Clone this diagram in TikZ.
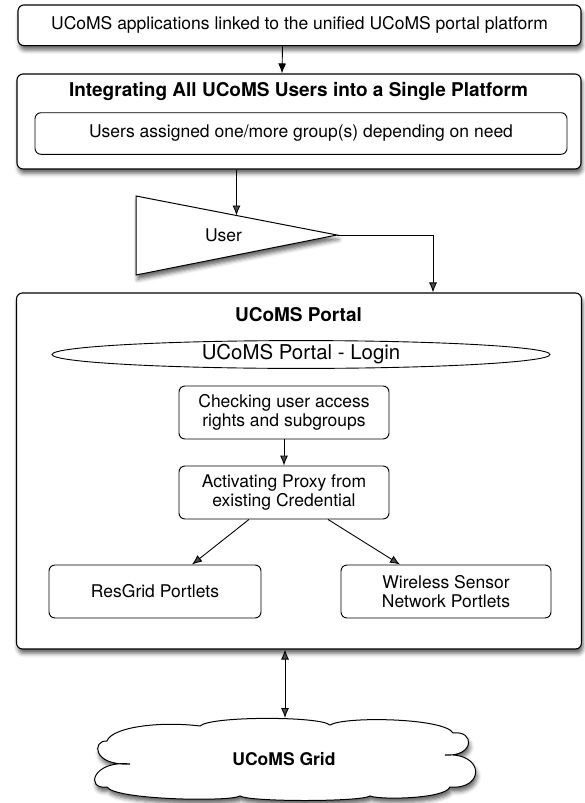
\documentclass[tikz,border=0pt]{standalone}
\usepackage{fontspec}
\setmainfont{TeX Gyre Heros}
\usetikzlibrary{arrows.meta,shapes.geometric,shadows.blur,calc}
\tikzset{
  >={Latex[length=10pt,width=8pt]},
}
\tikzstyle{every node}=[font=\fontsize{17.5}{19.5}\selectfont]
\tikzstyle{dropshade}=[blur shadow={shadow xshift=1.5pt,shadow yshift=-4.5pt,shadow blur radius=4pt,shadow opacity=60}]
\tikzstyle{bigbox}=[draw,line width=1.1pt,rounded corners=6pt,fill=white,dropshade]
\tikzstyle{smallbox}=[draw,line width=0.9pt,rounded corners=6pt,fill=white,align=center,inner sep=0pt]
\tikzstyle{heading}=[font=\fontsize{19}{21}\selectfont\bfseries]
\tikzstyle{link}=[line width=0.9pt,->]

\begin{document}
\begin{tikzpicture}[x=1pt,y=-1pt]
  \useasboundingbox (0,0) rectangle (584,803);
  \node[bigbox,minimum width=563pt,minimum height=40.7pt] (apps) at (299.5,25.3)
    {UCoMS applications linked to the unified UCoMS portal platform};
  \node[bigbox,minimum width=564pt,minimum height=95pt] (integ) at (299,121.5) {};
  \node[heading] (integt) at (298.5,91.7)
    {Integrating All UCoMS Users into a Single Platform};
  \node[smallbox,minimum width=532pt,minimum height=41.6pt] (groups) at (301,133.5)
    {Users assigned one/more group(s) depending on need};
  \draw[link] ([xshift=-17pt]apps.south) -- ([xshift=-17pt]integ.north);
  % user triangle
  \coordinate (ta) at (136,196);
  \coordinate (tb) at (136,275);
  \coordinate (tip) at (337,235);
  \draw[line width=1pt,fill=white,dropshade] (ta) -- (tip) -- (tb) -- cycle;
  \node (user) at (223.5,235) {User};
  \coordinate (uin) at ($(ta)!0.5!(tip)$);
  \draw[link] (integ.south -| uin) -- (uin);
  % portal
  \node[bigbox,minimum width=565pt,minimum height=356pt] (portal) at (299,471) {};
  \node[heading] (portalt) at (298.5,315) {UCoMS Portal};
  \node[draw,ellipse,line width=0.9pt,minimum width=498pt,minimum height=27pt,inner sep=0pt,
    font=\fontsize{20.4}{22}\selectfont] (login) at (301,354.5) {UCoMS Portal - Login};
  \draw[link] (tip) -| ([xshift=134pt]portal.north);
  \node[smallbox,minimum width=210pt,minimum height=53pt] (check) at (284,412.5)
    {Checking user access\\rights and subgroups};
  \node[smallbox,minimum width=210pt,minimum height=53pt] (proxy) at (284,492.5)
    {Activating Proxy from\\existing Credential};
  \node[smallbox,minimum width=212pt,minimum height=53pt] (resgrid) at (155,591.5)
    {ResGrid Portlets};
  \node[smallbox,minimum width=210pt,minimum height=53pt] (wsn) at (446,591.5)
    {Wireless Sensor\\Network Portlets};
  \draw[link] (check) -- (proxy);
  \draw[link] ([xshift=-35pt]proxy.south) -- ([xshift=37pt]resgrid.north);
  \draw[link] ([xshift=44pt]proxy.south) -- ([xshift=-46pt]wsn.north);
  % grid cloud
  \draw[line width=1pt,fill=white,dropshade]
    (107,741) .. controls (112,727) and (160,721) .. (200,726)
    .. controls (210,716) and (320,716) .. (330,725)
    .. controls (345,716) and (445,718) .. (453,733)
    .. controls (475,730) and (475,757) .. (445,755)
    .. controls (485,752) and (485,790) .. (450,787)
    .. controls (445,799) and (380,800) .. (370,796)
    .. controls (360,802) and (250,802) .. (240,796)
    .. controls (230,802) and (115,800) .. (107,787)
    .. controls (85,790) and (92,760) .. (130,764)
    .. controls (92,766) and (92,740) .. (107,741) -- cycle;
  \coordinate (gtop) at (285,718);
  \node[font=\fontsize{17.5}{19.5}\selectfont\bfseries] (grid) at (284,759) {UCoMS Grid};
  \draw[link,<->] (gtop |- portal.south) -- (gtop);
\end{tikzpicture}
\end{document}
